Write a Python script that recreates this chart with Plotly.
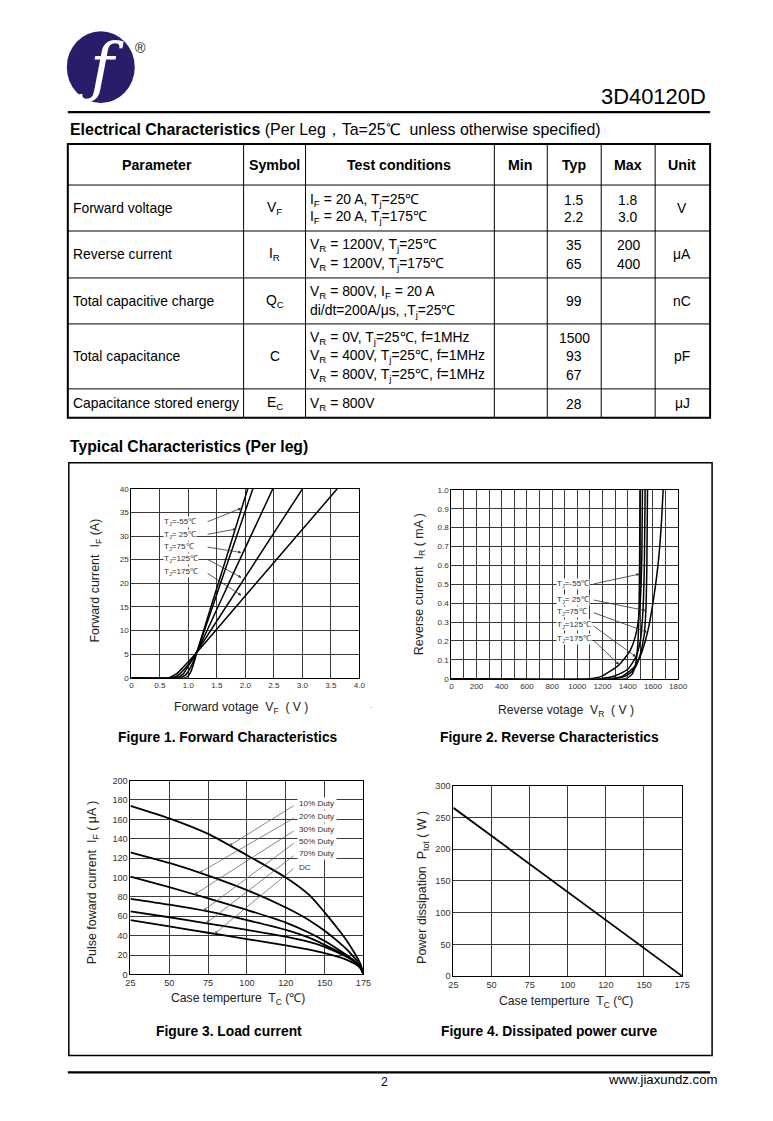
import plotly.graph_objects as go

# Page is 773x1121; the browser body keeps its default 8px margin, so the figure is 757x1105
W, H = 773, 1121
M = 8
FW, FH = W - 2 * M, H - 2 * M
FONT = "Liberation Sans, Arial, sans-serif"
# measured page -> photo correction
SX, BX = 0.9813, 5.27
SY, BY = 0.9917, 3.9
FS = 1.015

def PX(x):
    p = (x - BX) / SX
    return (p - M) / FW

def PY(y):
    p = (y - BY) / SY
    return 1 - (p - M) / FH

def fs(s):
    return s * FS

# ---------------- Table data ----------------
tbl_headers = ["Parameter", "Symbol", "Test conditions", "Min", "Typ", "Max", "Unit"]
tbl_params = ["Forward voltage", "Reverse current", "Total capacitive charge",
              "Total capacitance", "Capacitance stored energy"]
tbl_symbols = ["V<sub>F</sub>", "I<sub>R</sub>", "Q<sub>C</sub>", "C", "E<sub>C</sub>"]
tbl_conditions = [
    ["I<sub>F</sub> = 20 A, T<sub>j</sub>=25℃", "I<sub>F</sub> = 20 A, T<sub>j</sub>=175℃"],
    ["V<sub>R</sub> = 1200V, T<sub>j</sub>=25℃", "V<sub>R</sub> = 1200V, T<sub>j</sub>=175℃"],
    ["V<sub>R</sub> = 800V, I<sub>F</sub> = 20 A", "di/dt=200A/μs, ,T<sub>j</sub>=25℃"],
    ["V<sub>R</sub> = 0V, T<sub>j</sub>=25℃, f=1MHz",
     "V<sub>R</sub> = 400V, T<sub>j</sub>=25℃, f=1MHz",
     "V<sub>R</sub> = 800V, T<sub>j</sub>=25℃, f=1MHz"],
    ["V<sub>R</sub> = 800V"],
]
tbl_typ = [["1.5", "2.2"], ["35", "65"], ["99"], ["1500", "93", "67"], ["28"]]
tbl_max = [["1.8", "3.0"], ["200", "400"], [], [], []]
tbl_units = ["V", "μA", "nC", "pF", "μJ"]

# ---------------- Figure 1 : forward characteristics ----------------
fwd_labels = ["T<sub>J</sub>=-55℃", "T<sub>J</sub>= 25℃", "T<sub>J</sub>=75℃",
              "T<sub>J</sub>=125℃", "T<sub>J</sub>=175℃"]
fwd_v = [
    [0, 0.95, 1.0, 1.05, 1.1, 1.15, 1.6, 2.04],
    [0, 0.85, 0.95, 1.05, 1.15, 1.6, 2.13],
    [0, 0.78, 0.9, 1.0, 1.15, 1.8, 2.48],
    [0, 0.72, 0.85, 0.95, 1.05, 1.15, 2.0, 3.0],
    [0, 0.66, 0.8, 0.9, 1.0, 1.15, 2.3, 3.61],
]
fwd_i = [
    [0, 0, 0.4, 1.5, 3.3, 5.5, 22.9, 40],
    [0, 0, 0.6, 2.5, 5.5, 21.3, 40],
    [0, 0, 0.7, 2.5, 5.5, 22.4, 40],
    [0, 0, 0.8, 2.1, 3.6, 5.5, 21.35, 40],
    [0, 0, 0.9, 2.1, 3.4, 5.4, 21.6, 40],
]
fwd_lab_y = [32.9, 30.3, 27.7, 25.2, 22.3]
fwd_arrow_head = [(1.93, 35.9), (1.84, 31.5), (1.93, 26.5), (1.93, 21.2), (1.93, 17.4)]
fwd_xticks = [0, 0.5, 1.0, 1.5, 2.0, 2.5, 3.0, 3.5, 4.0]
fwd_xticktext = ["0", "0.5", "1.0", "1.5", "2.0", "2.5", "3.0", "3.5", "4.0"]

# ---------------- Figure 2 : reverse characteristics ----------------
rev_v = [
    [0, 1380, 1430, 1460, 1480, 1490, 1494, 1497],
    [0, 1300, 1400, 1460, 1500, 1530, 1544, 1552, 1557],
    [0, 1250, 1350, 1450, 1500, 1557, 1600, 1640, 1665, 1681],
    [0, 1180, 1300, 1400, 1465, 1500, 1520, 1532, 1538],
    [0, 1100, 1200, 1332, 1420, 1470, 1500, 1512, 1517],
]
rev_i = [
    [0, 0, 0.02, 0.07, 0.18, 0.38, 0.6, 1.0],
    [0, 0, 0.02, 0.06, 0.13, 0.23, 0.36, 0.6, 1.0],
    [0, 0, 0.01, 0.06, 0.12, 0.245, 0.4, 0.6, 0.8, 1.0],
    [0, 0, 0.015, 0.05, 0.116, 0.2, 0.35, 0.6, 1.0],
    [0, 0, 0.015, 0.074, 0.15, 0.25, 0.42, 0.65, 1.0],
]
rev_lab_y = [0.50, 0.418, 0.352, 0.284, 0.21]
rev_arrow_head = [(1494, 0.554), (1544, 0.36), (1557, 0.245), (1465, 0.116), (1332, 0.074)]
rev_xticks = [0, 200, 400, 600, 800, 1000, 1200, 1400, 1600, 1800]
rev_yticks = [0, 0.1, 0.2, 0.3, 0.4, 0.5, 0.6, 0.7, 0.8, 0.9, 1.0]
rev_yticktext = ["0", "0.1", "0.2", "0.3", "0.4", "0.5", "0.6", "0.7", "0.8", "0.9", "1.0"]

# ---------------- Figure 3 : load current ----------------
load_labels = ["10% Duty", "20% Duty", "30% Duty", "50% Duty", "70% Duty", "DC"]
load_t = [25, 50, 75, 100, 125, 140, 150, 160, 165, 170, 173, 175]
load_i = [
    [174, 161, 145, 123, 100, 82, 64, 44, 33, 20, 11, 0],
    [126, 115, 102, 87, 69, 56, 45, 32, 24.5, 15.5, 9, 0],
    [101, 90, 78.5, 66.5, 53.5, 43, 34.5, 24.5, 19, 12.5, 7.5, 0],
    [78, 72, 65, 56, 46, 38, 30.5, 22.5, 18, 12.5, 7.5, 0],
    [65, 59, 52.5, 46, 39, 33.5, 28.5, 21.5, 17.5, 12, 7, 0],
    [56, 49.5, 43, 36.5, 30, 25.5, 22, 17.5, 14.5, 10.5, 6.5, 0],
]
load_lab_y = [176, 163, 150, 137, 124.4, 110.7]
load_arrow_tail_y = [175, 162, 149, 136.4, 123.7, 110.6]
load_arrow_head = [(88.8, 133), (69.5, 105), (66.3, 82.5), (72.1, 66), (73.8, 52.9), (79.2, 42)]
temp_ticks = [25, 50, 75, 100, 125, 150, 175]
temp_ticktext = ["25", "50", "75", "100", "120", "150", "175"]

# ---------------- Figure 4 : dissipated power ----------------
pow_t = [25, 175]
pow_p = [265, 0]

fig = go.Figure()

for v, i in zip(fwd_v, fwd_i):
    fig.add_trace(go.Scatter(x=v, y=i, mode="lines",
                             line=dict(color="black", width=1.5, shape="spline", smoothing=0.6),
                             xaxis="x", yaxis="y", showlegend=False, hoverinfo="skip"))
for v, i in zip(rev_v, rev_i):
    fig.add_trace(go.Scatter(x=v, y=i, mode="lines",
                             line=dict(color="black", width=1.5, shape="spline", smoothing=0.6),
                             xaxis="x2", yaxis="y2", showlegend=False, hoverinfo="skip"))
for i in load_i:
    fig.add_trace(go.Scatter(x=load_t, y=i, mode="lines",
                             line=dict(color="black", width=1.8, shape="spline", smoothing=0.7),
                             xaxis="x3", yaxis="y3", showlegend=False, hoverinfo="skip"))
fig.add_trace(go.Scatter(x=pow_t, y=pow_p, mode="lines", line=dict(color="black", width=1.8),
                         xaxis="x4", yaxis="y4", showlegend=False, hoverinfo="skip"))

GRID = "#3a3a3a"
TICKF = dict(family=FONT, size=fs(8), color="#333")
TICKF9 = dict(family=FONT, size=fs(9), color="#333")

def axis(domain, rng, **kw):
    d = dict(domain=domain, range=rng, showline=True, linecolor="black", linewidth=1, mirror=True,
             showgrid=True, gridcolor=GRID, gridwidth=1, zeroline=False, ticks="",
             tickfont=TICKF, fixedrange=True)
    d.update(kw)
    return d

fig.update_layout(
    xaxis=axis([PX(131.7), PX(360)], [0, 4], anchor="y", tickvals=fwd_xticks, ticktext=fwd_xticktext),
    yaxis=axis([PY(677), PY(488)], [0, 40], anchor="x", dtick=5),
    xaxis2=axis([PX(452), PX(679)], [0, 1800], anchor="y2", tickvals=rev_xticks,
                minor=dict(dtick=100, showgrid=True, gridcolor=GRID, gridwidth=1)),
    yaxis2=axis([PY(678), PY(489)], [0, 1.0], anchor="x2", tickvals=rev_yticks, ticktext=rev_yticktext),
    xaxis3=axis([PX(130.7), PX(364)], [25, 175], anchor="y3", tickvals=temp_ticks, ticktext=temp_ticktext,
                tickfont=TICKF9),
    yaxis3=axis([PY(974), PY(780)], [0, 200], anchor="x3", dtick=20, tickfont=TICKF9),
    xaxis4=axis([PX(454), PX(683)], [25, 175], anchor="y4", tickvals=temp_ticks, ticktext=temp_ticktext,
                tickfont=TICKF9),
    yaxis4=axis([PY(975.7), PY(785)], [0, 300], anchor="x4", dtick=50, tickfont=TICKF9),
)

shapes = []
ann = []

def text(x, y, s, size=13, anchor="left", color="black", bold=False, family=FONT, angle=0, yanchor="middle"):
    if bold:
        s = "<b>" + s + "</b>"
    ann.append(dict(x=PX(x), y=PY(y), xref="paper", yref="paper", text=s, showarrow=False,
                    xanchor=anchor, yanchor=yanchor, textangle=angle,
                    font=dict(family=family, size=fs(size), color=color)))

def hline(x0, x1, y, w=1):
    shapes.append(dict(type="line", xref="paper", yref="paper", x0=PX(x0), x1=PX(x1), y0=PY(y), y1=PY(y),
                       line=dict(color="black", width=w)))

def vline(x, y0, y1, w=1):
    shapes.append(dict(type="line", xref="paper", yref="paper", x0=PX(x), x1=PX(x), y0=PY(y0), y1=PY(y1),
                       line=dict(color="black", width=w)))

# ---- header ----
shapes.append(dict(type="circle", xref="paper", yref="paper", x0=PX(67), x1=PX(135), y0=PY(102), y1=PY(30),
                   fillcolor="#2a1b6b", line=dict(width=0)))
text(101, 66, "<i>ƒ</i>", size=64, anchor="center", color="white", family="DejaVu Serif")
text(141, 47, "®", size=14, anchor="center", color="#222")
text(709, 95, "3D40120D", size=21.6, anchor="right")
hline(68, 711, 111, 2.2)
text(68, 128, "<b>Electrical Characteristics</b> (Per Leg，Ta=25℃  unless otherwise specified)", size=15.7)

# ---- table ----
col_edges = [68, 244, 306, 495, 548, 602, 656, 711]
row_edges = [143, 184, 230, 277, 323, 388, 417]
shapes.append(dict(type="rect", xref="paper", yref="paper", x0=PX(68), x1=PX(711), y0=PY(417), y1=PY(143),
                   line=dict(color="black", width=2)))
for r in row_edges[1:-1]:
    hline(68, 711, r, 1)
for c in col_edges[1:-1]:
    vline(c, 143, 417, 1)
hdr_x = [157, 275, 400, 521, 575, 629, 683]
for hx, h in zip(hdr_x, tbl_headers):
    text(hx, 164, h, size=14, anchor="center", bold=True)
line_ys = [[199, 216], [244, 263], [291, 310], [337, 355, 374], [403]]
for k in range(5):
    y0, y1 = row_edges[k + 1], row_edges[k + 2]
    yc = (y0 + y1) / 2
    text(71, yc, tbl_params[k], size=13.7)
    text(275, yc, tbl_symbols[k], size=13.7, anchor="center")
    for ly, cond in zip(line_ys[k], tbl_conditions[k]):
        text(308, ly, cond, size=13.7)
    typ_ys = line_ys[k] if len(tbl_typ[k]) == len(line_ys[k]) else [yc]
    for ly, t in zip(typ_ys, tbl_typ[k]):
        text(575, ly, t, size=13.7, anchor="center")
    for ly, t in zip(line_ys[k], tbl_max[k]):
        text(629, ly, t, size=13.7, anchor="center")
    text(683, yc, tbl_units[k], size=13.7, anchor="center")

# ---- typical characteristics ----
text(68, 446, "Typical Characteristics (Per leg)", size=15.5, bold=True)
shapes.append(dict(type="rect", xref="paper", yref="paper", x0=PX(69), x1=PX(713), y0=PY(1055), y1=PY(462),
                   line=dict(color="black", width=1.5)))

# axis titles
text(96, 580, "Forward current  I<sub>F</sub> (A)", size=12.3, anchor="center", angle=-90, color="#222")
text(241, 707, "Forward votage  V<sub>F</sub>  ( V )", size=12, anchor="center", color="#222")
text(372, 707, "·", size=8, anchor="center", color="#555")
text(420, 583, "Reverse current  I<sub>R</sub> ( mA )", size=12.3, anchor="center", angle=-90, color="#222")
text(567, 710, "Reverse votage  V<sub>R</sub>  ( V )", size=12, anchor="center", color="#222")
text(93, 882, "Pulse foward current  I<sub>F</sub> ( μA )", size=12.3, anchor="center", angle=-90, color="#222")
text(238, 999, "Case temperture  T<sub>C</sub> (℃)", size=12, anchor="center", color="#222")
text(423, 887, "Power dissipation  P<sub>tot</sub> ( W )", size=12.3, anchor="center", angle=-90, color="#222")
text(567, 1002, "Case temperture  T<sub>C</sub> (℃)", size=12, anchor="center", color="#222")

# captions
text(228, 737, "Figure 1. Forward Characteristics", size=13.6, anchor="center", bold=True)
text(550, 737, "Figure 2. Reverse Characteristics", size=13.6, anchor="center", bold=True)
text(229, 1031, "Figure 3. Load current", size=13.6, anchor="center", bold=True)
text(550, 1031, "Figure 4. Dissipated power curve", size=13.6, anchor="center", bold=True)

# footer
hline(68, 711, 1072, 2.2)
text(385, 1082, "2", size=12, anchor="center")
text(720, 1079, "www.jiaxundz.com", size=13, anchor="right")

# ---- in-plot labels and arrows ----
for lab, ly, head in zip(fwd_labels, fwd_lab_y, fwd_arrow_head):
    ann.append(dict(x=head[0], y=head[1], ax=1.31, ay=ly, xref="x", yref="y", axref="x", ayref="y",
                    text="", showarrow=True, arrowhead=2, arrowsize=0.8, arrowwidth=0.8, arrowcolor="#333"))
    ann.append(dict(x=0.55, y=ly, xref="x", yref="y", text=lab, showarrow=False, xanchor="left",
                    bgcolor="white", borderpad=0, font=dict(family=FONT, size=fs(8), color="#333")))
for lab, ly, head in zip(fwd_labels, rev_lab_y, rev_arrow_head):
    ann.append(dict(x=head[0], y=head[1], ax=1118, ay=ly, xref="x2", yref="y2", axref="x2", ayref="y2",
                    text="", showarrow=True, arrowhead=2, arrowsize=0.8, arrowwidth=0.8, arrowcolor="#333"))
    ann.append(dict(x=830, y=ly, xref="x2", yref="y2", text=lab, showarrow=False, xanchor="left",
                    bgcolor="white", borderpad=0, font=dict(family=FONT, size=fs(8), color="#333")))
for lab, ly, ty, head in zip(load_labels, load_lab_y, load_arrow_tail_y, load_arrow_head):
    ann.append(dict(x=head[0], y=head[1], ax=131, ay=ty, xref="x3", yref="y3", axref="x3", ayref="y3",
                    text="", showarrow=True, arrowhead=2, arrowsize=0.8, arrowwidth=0.7, arrowcolor="#555"))
    ann.append(dict(x=132.4, y=ly, xref="x3", yref="y3", text=lab, showarrow=False, xanchor="left",
                    bgcolor="white", borderpad=1, font=dict(family=FONT, size=fs(8), color="#333")))

fig.update_layout(
    width=FW, height=FH, margin=dict(l=0, r=0, t=0, b=0),
    paper_bgcolor="white", plot_bgcolor="white",
    shapes=shapes, annotations=ann, showlegend=False,
    font=dict(family=FONT),
)

fig.write_html("out.html", config={"displayModeBar": False})
